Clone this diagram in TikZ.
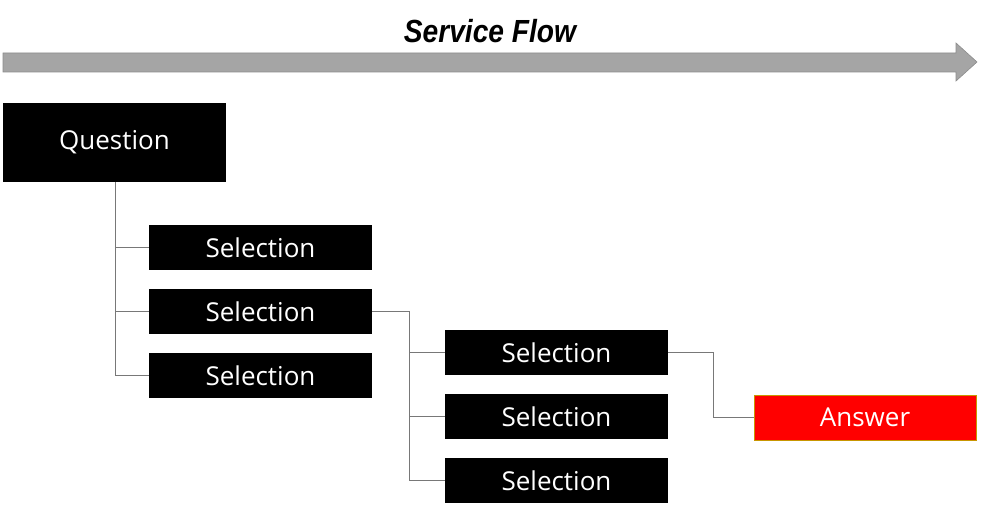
\documentclass[tikz,border=0pt]{standalone}
\usepackage{fontspec}
\setmainfont{Open Sans}
\newfontfamily\titlefont{Liberation Sans}
\begin{document}
\begin{tikzpicture}[x=1pt,y=-1pt,
  box/.style={fill=black,text=white,inner sep=0pt,font=\fontsize{26}{30}\selectfont},
  ans/.style={fill=red,draw={rgb,255:red,200;green,150;blue,0},line width=0.8pt,text=white,inner sep=0pt,font=\fontsize{26}{30}\selectfont},
  conn/.style={draw={rgb,255:red,120;green,120;blue,120},line width=0.9pt}]
\useasboundingbox (0,0) rectangle (985,511);
% service flow arrow
\fill[fill={rgb,255:red,165;green,165;blue,165},draw={rgb,255:red,140;green,140;blue,140},line width=0.6pt]
  (3,53) -- (956,53) -- (956,43) -- (977,62) -- (956,81) -- (956,72) -- (3,72) -- cycle;
\node[font=\titlefont\bfseries\itshape\fontsize{32}{36}\selectfont, xscale=0.88] (title) at (490,31) {Service Flow};
% boxes
\node[box,minimum width=223,minimum height=79] (q) at (114.5,142.5) {Question};
\node[box,minimum width=223,minimum height=45] (s1) at (260.5,247.5) {Selection};
\node[box,minimum width=223,minimum height=45] (s2) at (260.5,311.5) {Selection};
\node[box,minimum width=223,minimum height=45] (s3) at (260.5,375.5) {Selection};
\node[box,minimum width=223,minimum height=45] (t1) at (556.5,352.5) {Selection};
\node[box,minimum width=223,minimum height=45] (t2) at (556.5,416.5) {Selection};
\node[box,minimum width=223,minimum height=45] (t3) at (556.5,480.5) {Selection};
\node[ans,minimum width=222,minimum height=45] (a) at (865,417.5) {Answer};
% connectors
\coordinate (j1) at (115,0);
\draw[conn] (q.south -| j1) |- (s3.west);
\draw[conn] (j1 |- s1.west) -- (s1.west);
\draw[conn] (j1 |- s2.west) -- (s2.west);
\coordinate (j2) at (409,0);
\draw[conn] (s2.east) -| (j2 |- t3.west) -- (t3.west);
\draw[conn] (j2 |- t1.west) -- (t1.west);
\draw[conn] (j2 |- t2.west) -- (t2.west);
\coordinate (j3) at (713,0);
\draw[conn] (t1.east) -| (j3 |- a.west) -- (a.west);
\end{tikzpicture}
\end{document}
